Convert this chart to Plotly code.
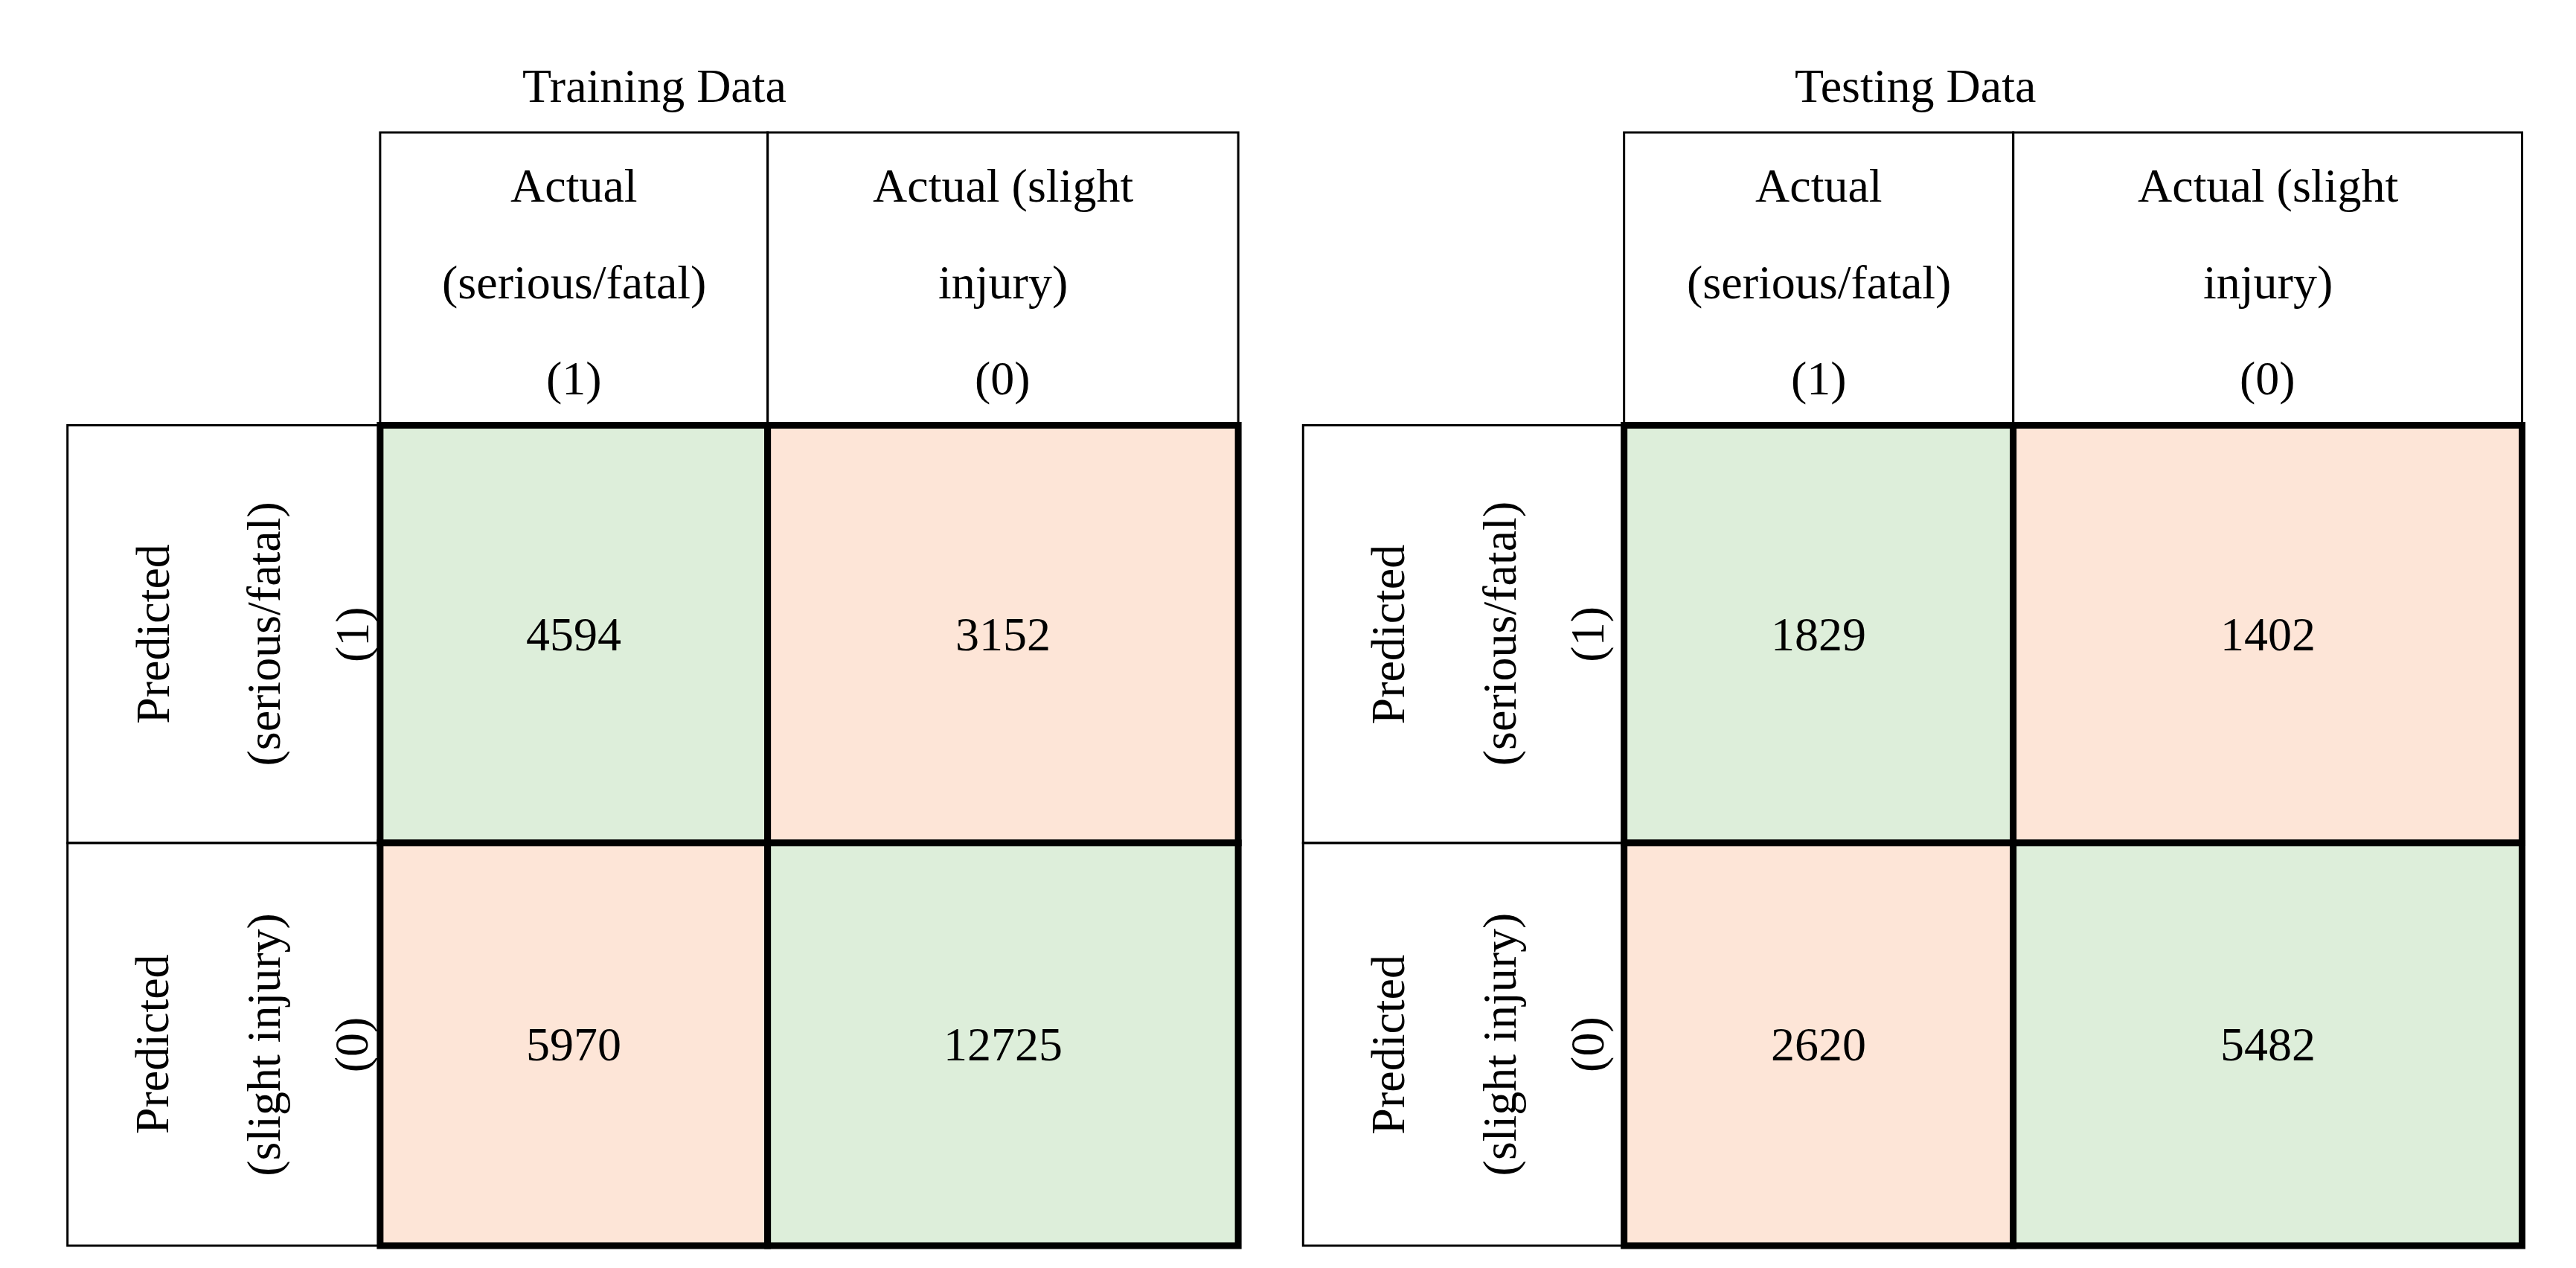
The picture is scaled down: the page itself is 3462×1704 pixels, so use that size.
import plotly.graph_objects as go

# panel data
panel_titles = ["Training Data", "Testing Data"]
train_values = [[4594, 3152], [5970, 12725]]
test_values = [[1829, 1402], [2620, 5482]]
col_headers = [["Actual", "(serious/fatal)", "(1)"], ["Actual (slight", "injury)", "(0)"]]
row_headers = [["Predicted", "(serious/fatal)", "(1)"], ["Predicted", "(slight injury)", "(0)"]]

GREEN = "#DDEEDA"
SALMON = "#FDE5D7"
FONT = dict(family="Liberation Serif, serif", size=64, color="black")

# panel geometry in axis units (reference image grid)
panels = [
    dict(x=[37, 225, 458, 741], title_x=390, values=train_values),
    dict(x=[780, 973, 1207, 1513], title_x=1148, values=test_values),
]
y_head = [76, 252]
y_rows = [252, 503, 745]
line_dy = [108, 166, 224]
row_dx = [88, 155, 208]

fig = go.Figure()
shapes = []
annotations = []

for p, title in zip(panels, panel_titles):
    x = p["x"]
    annotations.append(dict(x=p["title_x"], y=48, text=title, showarrow=False, font=FONT))
    # header cells
    for c in range(2):
        shapes.append(dict(type="rect", x0=x[c + 1], x1=x[c + 2], y0=y_head[0], y1=y_head[1],
                           line=dict(color="black", width=3)))
        for k, txt in enumerate(col_headers[c]):
            annotations.append(dict(x=(x[c + 1] + x[c + 2]) / 2, y=line_dy[k], text=txt,
                                    showarrow=False, font=FONT))
    # row headers
    for r in range(2):
        shapes.append(dict(type="rect", x0=x[0], x1=x[1], y0=y_rows[r], y1=y_rows[r + 1],
                           line=dict(color="black", width=3)))
        yc = (y_rows[r] + y_rows[r + 1]) / 2
        for k, txt in enumerate(row_headers[r]):
            annotations.append(dict(x=row_dx[k] + (x[0] - 37), y=yc, text=txt, textangle=-90,
                                    showarrow=False, font=FONT))
    # value cells
    for r in range(2):
        for c in range(2):
            color = GREEN if r == c else SALMON
            shapes.append(dict(type="rect", x0=x[c + 1], x1=x[c + 2], y0=y_rows[r], y1=y_rows[r + 1],
                               fillcolor=color, line=dict(color="black", width=9), layer="below"))
            annotations.append(dict(x=(x[c + 1] + x[c + 2]) / 2, y=(y_rows[r] + y_rows[r + 1]) / 2,
                                    text=str(p["values"][r][c]), showarrow=False, font=FONT))

fig.add_trace(go.Scatter(x=[0, 1549], y=[0, 762], mode="markers", marker=dict(opacity=0),
                         hoverinfo="skip", showlegend=False))
fig.update_layout(
    width=3462, height=1704,
    margin=dict(l=0, r=0, t=0, b=0),
    paper_bgcolor="white", plot_bgcolor="white",
    xaxis=dict(range=[0, 1549], visible=False),
    yaxis=dict(range=[762, 0], visible=False),
    shapes=shapes, annotations=annotations,
)
fig.write_html("out.html")
